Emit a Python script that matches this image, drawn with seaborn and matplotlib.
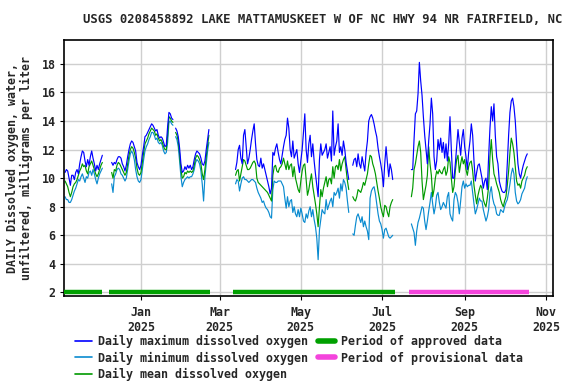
import matplotlib
matplotlib.use("Agg")
import matplotlib.pyplot as plt
import matplotlib.dates as mdates
from matplotlib.lines import Line2D
import numpy as np
import pandas as pd
import seaborn as sns

# ---- data --------------------------------------------------------------
title = "USGS 0208458892 LAKE MATTAMUSKEET W OF NC HWY 94 NR FAIRFIELD, NC"
ylabel = "DAILY Dissolved oxygen, water,\nunfiltered, milligrams per liter"

segment_starts = ["2024-11-05", "2024-12-10", "2025-01-27", "2025-03-13",
                  "2025-06-09", "2025-07-23"]

max_do = [
    [10.4, 10.6, 10.5, 10.0, 9.5, 10.2, 10.2, 9.9, 10.4, 10.6, 10.3, 11.0, 11.5, 11.9, 11.8,
     11.2, 10.8, 11.3, 10.9, 11.5, 11.9, 11.4, 11.0, 10.5, 10.9, 10.6, 11.0, 11.3, 11.6],
    [11.1, 10.9, 11.1, 11.0, 11.3, 11.5, 11.5, 11.4, 11.0, 10.8, 10.5, 10.9, 11.5, 12.0, 12.4,
     12.6, 12.5, 12.2, 11.9, 11.1, 10.8, 10.6, 10.9, 11.6, 12.2, 12.9, 13.0, 13.2, 13.4, 13.6,
     13.8, 13.7, 13.5, 13.3, 13.4, 13.0, 12.8, 12.9, 12.8, 12.5, 12.2, 12.3, 13.6, 14.6, 14.5,
     14.2, 14.1],
    [13.5, 13.3, 12.9, 12.1, 11.0, 10.4, 10.5, 10.8, 10.6, 10.9, 10.7, 10.9, 10.6, 10.8, 11.3,
     11.7, 11.9, 11.8, 11.7, 11.4, 11.0, 10.9, 11.2, 12.0, 12.7, 13.4],
    [10.6, 11.1, 12.0, 12.3, 11.4, 11.0, 13.0, 13.4, 12.2, 11.0, 11.4, 12.0, 12.7, 13.3, 13.8,
     12.4, 11.3, 10.9, 10.8, 11.4, 10.7, 11.0, 10.6, 10.2, 9.8, 9.4, 8.9, 9.3, 11.8, 11.6,
     12.1, 12.4, 11.8, 11.3, 11.0, 11.6, 12.2, 12.7, 13.0, 14.2, 13.5, 12.0, 11.5, 12.6, 11.4,
     11.7, 12.0, 11.0, 10.4, 11.2, 12.0, 13.2, 14.5, 12.0, 11.1, 12.4, 13.0, 11.5, 12.4, 11.2,
     10.3, 9.5, 8.7, 11.3, 12.4, 11.6, 11.8, 12.0, 12.4, 11.4, 11.8, 12.2, 11.2, 14.7, 11.6,
     12.2, 12.6, 13.8, 11.8, 12.2, 11.6, 12.6, 12.0, 11.1, 10.5, 9.9],
    [10.9, 11.3, 11.4, 10.8, 11.7, 11.0, 10.7, 11.5, 11.0, 10.5, 11.8, 12.6, 14.0, 14.3, 14.45,
     14.2, 13.8, 13.3, 12.9, 12.1, 11.5, 11.0, 10.4, 9.4, 11.0, 12.2, 11.1, 10.1, 11.0, 10.6,
     9.9],
    [10.6, 10.6, 12.7, 14.5, 14.7, 15.9, 18.1, 16.8, 15.8, 14.3, 13.0, 12.0, 11.0, 12.6, 13.8,
     15.6, 14.5, 11.5, 10.6, 11.2, 12.7, 12.0, 12.8, 11.8, 12.5, 11.4, 12.4, 11.2, 12.4, 14.3,
     12.0, 10.0, 10.0, 11.0, 12.2, 13.4, 12.5, 11.6, 12.8, 13.4, 12.2, 11.5, 10.6, 11.8, 12.6,
     13.8, 13.0, 11.2, 9.8, 10.4, 10.9, 11.0, 10.5, 10.0, 9.3, 9.8, 10.0, 9.2, 11.5, 13.5,
     15.0, 14.0, 15.2, 13.0, 11.5, 11.0, 9.8, 9.4, 9.1, 9.0, 9.0, 9.2, 11.0, 13.0, 14.6,
     15.4, 15.6, 15.0, 14.0, 12.4, 11.0, 10.3, 10.0, 10.5, 10.9, 11.2, 11.5, 11.7],
]

min_do = [
    [8.7, 8.5, 8.5, 8.3, 8.3, 8.5, 8.8, 9.1, 9.3, 9.6, 9.9, 9.8, 10.1, 10.3, 10.0,
     9.7, 10.1, 10.0, 10.4, 10.5, 10.2, 10.6, 10.3, 9.9, 9.6, 10.0, 10.3, 10.5, 10.7],
    [9.6, 9.0, 10.1, 10.3, 10.6, 10.7, 10.6, 10.3, 10.2, 10.0, 9.8, 10.0, 10.6, 11.2, 11.7,
     11.9, 11.7, 11.3, 10.6, 10.1, 9.8, 9.7, 9.9, 10.6, 11.3, 11.9, 12.2, 12.4, 12.7, 12.9,
     13.2, 13.2, 13.0, 12.7, 12.8, 12.5, 12.4, 12.5, 12.3, 11.9, 11.7, 11.8, 12.5, 13.9, 14.0,
     13.8, 13.7],
    [12.9, 12.7, 12.2, 11.2, 10.1, 9.4, 9.7, 9.9, 10.0, 10.1, 10.0, 10.1, 10.1, 10.3, 10.6,
     11.1, 11.3, 11.2, 11.0, 10.5, 9.6, 8.4, 10.1, 11.0, 11.9, 12.5],
    [9.6, 9.9, 9.8, 9.1, 9.6, 10.0, 10.1, 9.9, 9.9, 9.8, 9.7, 9.8, 9.9, 9.9, 9.8,
     9.7, 9.3, 9.0, 8.8, 8.6, 8.3, 8.4, 8.1, 7.9, 7.8, 7.6, 7.3, 7.2, 9.2, 9.8,
     9.7, 9.7, 9.8, 9.8, 9.8, 9.6, 9.4, 8.6, 7.9, 8.7, 8.0, 8.4, 8.5, 7.6, 8.0,
     7.5, 7.3, 7.8, 7.3, 7.9, 7.5, 7.0, 6.9, 7.5, 7.2, 7.7, 8.0, 7.3, 7.8, 7.1,
     6.6, 5.8, 4.3, 6.4, 7.1, 7.8, 7.6, 7.5, 8.5, 7.8, 8.1, 8.4, 8.6, 8.0, 9.0,
     8.8, 9.0, 9.3, 8.6, 9.6, 9.1, 9.9, 9.7, 9.3, 8.4, 7.6],
    [6.1, 6.0, 6.7, 7.3, 7.5, 7.2, 6.9, 7.3, 6.6, 7.0, 6.6, 6.3, 5.7, 8.6, 9.1,
     9.3, 9.4, 8.9, 8.2, 7.5, 7.0, 6.8, 6.4, 5.8, 6.4, 6.5, 6.2, 5.9, 5.8, 5.9,
     6.0],
    [6.8, 6.5, 6.2, 5.3, 6.3, 6.9, 7.2, 7.6, 8.0, 7.9, 7.0, 6.4, 7.0, 7.7, 8.3,
     9.0, 8.2, 7.5, 8.0, 8.8, 9.0, 8.3, 7.8, 8.0, 8.3, 8.1, 7.9, 8.7, 9.0, 7.5,
     7.2, 7.0, 8.5, 9.0, 8.8, 8.3, 7.5, 8.4, 9.4, 9.8, 9.3, 9.6, 9.4, 9.5, 9.5,
     9.8, 9.0, 8.2, 7.5, 7.8, 8.2, 8.6, 8.4, 8.4, 7.8, 7.4, 7.0, 7.3, 7.8, 9.0,
     9.4, 8.6, 8.2, 8.0, 7.5, 7.4, 7.4, 7.8, 7.7, 7.6, 8.0, 8.3, 8.5, 9.0, 9.6,
     10.3, 10.7, 10.3, 9.0, 8.4, 8.2, 8.3, 8.5, 8.9, 9.1, 9.3, 9.8, 10.1],
]

mean_do = [
    [9.8, 9.6, 9.4, 9.0, 8.7, 9.0, 9.4, 9.6, 9.7, 9.9, 10.2, 10.5, 10.7, 11.0, 10.8,
     10.9, 10.5, 10.3, 10.8, 11.0, 11.2, 10.9, 10.6, 10.3, 10.1, 10.3, 10.6, 10.9, 11.1],
    [10.4, 10.0, 10.6, 10.5, 10.9, 11.1, 11.0, 10.8, 10.6, 10.4, 10.2, 10.4, 11.0, 11.6, 12.0,
     12.2, 12.1, 11.8, 11.4, 10.7, 10.3, 10.2, 10.4, 11.1, 11.8, 12.4, 12.6, 12.8, 13.1, 13.3,
     13.5, 13.4, 13.3, 13.0, 13.1, 12.8, 12.6, 12.7, 12.5, 12.2, 12.0, 12.0, 13.0, 14.3, 14.2,
     14.0, 13.9],
    [13.2, 13.0, 12.6, 11.7, 10.6, 10.0, 10.1, 10.4, 10.3, 10.5, 10.4, 10.5, 10.4, 10.5, 10.9,
     11.4, 11.6, 11.5, 11.3, 11.0, 10.3, 9.9, 10.6, 11.5, 12.3, 13.0],
    [10.2, 10.5, 10.6, 9.8, 10.3, 10.8, 11.3, 11.2, 10.9, 10.6, 10.6, 10.7, 10.9, 11.1, 11.2,
     11.0, 10.0, 9.7, 9.6, 9.5, 9.4, 9.3, 9.2, 9.1, 9.0, 8.8, 8.6, 8.4, 10.2, 10.8,
     10.9, 10.5, 10.4, 10.7, 10.8, 11.0, 11.4, 11.0, 10.6, 11.2, 10.6, 10.9, 11.0, 10.1, 10.8,
     10.0, 9.6, 9.2, 9.0, 9.8, 10.5, 10.9, 11.0, 9.9, 8.8, 9.2, 9.8, 10.3, 9.4, 8.8,
     8.2, 7.5, 6.6, 8.0, 9.2, 8.7, 9.3, 9.7, 10.1, 9.4, 9.9, 10.0, 9.6, 10.8, 10.0,
     10.8, 10.9, 10.6, 11.3, 10.5, 11.0, 11.3, 11.5, 10.6, 9.8, 9.2],
    [8.7, 8.5, 8.4, 8.7, 9.2, 9.1, 9.0, 9.3, 9.7, 9.5, 9.9, 10.3, 11.0, 11.6, 11.5,
     11.0, 10.7, 10.3, 9.7, 9.1, 8.6, 8.0, 7.6, 7.3, 8.1, 8.0, 7.6, 7.3, 8.0, 8.3,
     8.5],
    [8.7, 9.3, 10.6, 11.0, 11.6, 12.2, 12.6, 11.8, 9.8, 8.5, 9.0, 9.5, 10.2, 12.2, 11.0,
     10.2, 8.7, 9.2, 10.0, 10.5, 10.3, 10.6, 10.4, 10.3, 10.6, 10.8, 10.2, 10.5, 11.5, 11.1,
     10.0, 9.0, 9.4, 10.5, 11.3, 11.6, 10.4, 11.0, 11.5, 11.0, 11.3, 10.6, 10.2, 10.8, 11.1,
     11.2, 10.5, 9.5, 8.8, 8.2, 8.8, 9.2, 9.5, 9.3, 8.5, 8.2, 8.0, 8.6, 9.4, 11.5,
     12.7, 11.3, 10.3, 10.0, 9.6, 9.3, 9.0, 8.5, 8.2, 8.0, 8.4, 8.7, 9.5, 10.5, 11.8,
     12.8, 12.4, 11.8, 10.8, 9.8, 9.5, 9.6, 9.3, 9.8, 10.0, 10.2, 10.6, 10.8],
]

approved_periods = [("2024-11-04", "2024-12-03"), ("2024-12-08", "2025-02-22"),
                    ("2025-03-11", "2025-07-11")]
provisional_periods = [("2025-07-21", "2025-10-19")]

# ---- build long table ----------------------------------------------------
frames = []
for k, start in enumerate(segment_starts):
    n = len(max_do[k])
    frames.append(pd.DataFrame({
        "date": pd.date_range(start, periods=n, freq="D"),
        "max": max_do[k], "min": min_do[k], "mean": mean_do[k], "segment": k,
    }))
df = pd.concat(frames, ignore_index=True)

# ---- plot ------------------------------------------------------------------
sns.set_style("white")
plt.rcParams["font.family"] = ["DejaVu Sans Mono"]
plt.rcParams["font.weight"] = "bold"
fs = 8.4

c_max, c_min, c_mean = "#0000ff", "#0a8bd0", "#009a00"
c_appr, c_prov = "#00a000", "#f444dc"

fig = plt.figure(figsize=(5.76, 3.84), dpi=100)
ax = fig.add_axes([0.111, 0.229, 0.849, 0.667])

for col, c in (("min", c_min), ("mean", c_mean), ("max", c_max)):
    sns.lineplot(data=df, x="date", y=col, units="segment", estimator=None,
                 color=c, linewidth=0.85, ax=ax, legend=False)

for a, b in approved_periods:
    ax.plot([pd.Timestamp(a), pd.Timestamp(b)], [2, 2], color=c_appr,
            linewidth=3.2, solid_capstyle="butt", zorder=5)
for a, b in provisional_periods:
    ax.plot([pd.Timestamp(a), pd.Timestamp(b)], [2, 2], color=c_prov,
            linewidth=3.2, solid_capstyle="butt", zorder=5)

ax.set_xlim(pd.Timestamp("2024-11-04 04:00"), pd.Timestamp("2025-11-06 07:00"))
ax.set_ylim(1.75, 19.67)
ax.set_yticks(np.arange(2, 19, 2))
ax.xaxis.set_major_locator(mdates.MonthLocator(bymonth=[1, 3, 5, 7, 9, 11]))
ax.xaxis.set_major_formatter(mdates.DateFormatter("%b\n%Y"))
ax.grid(True, color="#cfcfcf", linewidth=1.0)
ax.set_axisbelow(True)
ax.tick_params(axis="both", labelsize=fs, length=3, color="black", direction="out",
               bottom=True, left=True)
ax.tick_params(axis="x", pad=4)
ax.tick_params(axis="y", pad=3)
for lab in ax.get_xticklabels() + ax.get_yticklabels():
    lab.set_fontweight("bold")
for sp in ax.spines.values():
    sp.set_color("black")
    sp.set_linewidth(1.2)

ax.set_xlabel("")
ax.set_ylabel(ylabel, fontsize=fs, fontweight="bold", labelpad=6, linespacing=1.1)
fig.text(0.56, 0.95, title, ha="center", va="center", fontsize=8.8, fontweight="bold")

handles = [
    Line2D([], [], color=c_max, lw=1.2),
    Line2D([], [], color=c_min, lw=1.2),
    Line2D([], [], color=c_mean, lw=1.2),
    Line2D([], [], color=c_appr, lw=4),
    Line2D([], [], color=c_prov, lw=4),
]
labels = ["Daily maximum dissolved oxygen", "Daily minimum dissolved oxygen",
          "Daily mean dissolved oxygen", "Period of approved data",
          "Period of provisional data"]
fig.legend(handles, labels, ncol=2, loc="upper left", bbox_to_anchor=(0.130, 0.128),
           frameon=False, fontsize=fs, handlelength=1.5, handletextpad=0.5,
           columnspacing=0.8, labelspacing=0.3, borderpad=0, borderaxespad=0,
           prop={"weight": "bold", "size": fs})

fig.savefig("out.png", dpi=100)
